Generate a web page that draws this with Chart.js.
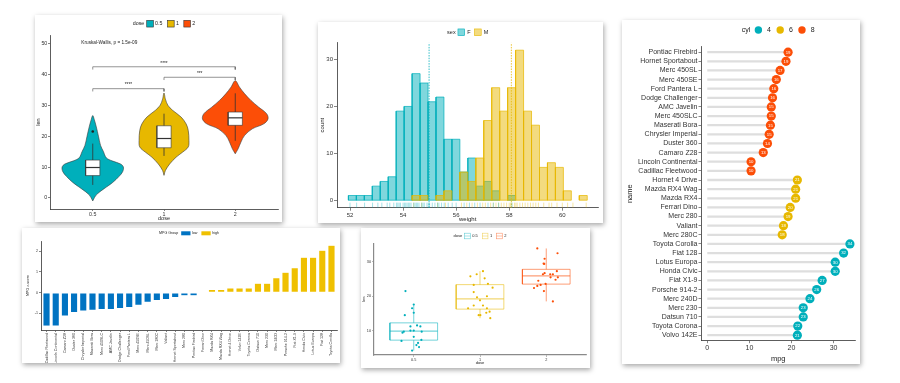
<!DOCTYPE html>
<html><head><meta charset="utf-8">
<script src="https://cdn.jsdelivr.net/npm/chart.js@4.4.1/dist/chart.umd.min.js"></script>
<style>
html,body{margin:0;padding:0;background:#fff}
body{width:900px;height:383px;overflow:hidden;position:relative}
.card{position:absolute;background:#fff;box-shadow:1px 2px 5px rgba(0,0,0,0.35)}
.card canvas{position:absolute;left:0;top:0}
</style></head><body>
<div class="card" style="left:35px;top:15px;width:247px;height:207px"><canvas id="ch1" width="247" height="207"></canvas></div>
<div class="card" style="left:318px;top:22px;width:285px;height:201px"><canvas id="ch2" width="285" height="201"></canvas></div>
<div class="card" style="left:622px;top:20px;width:238px;height:344px"><canvas id="ch3" width="238" height="344"></canvas></div>
<div class="card" style="left:22px;top:228px;width:318px;height:135px"><canvas id="ch4" width="318" height="135"></canvas></div>
<div class="card" style="left:361px;top:228px;width:229px;height:140px"><canvas id="ch5" width="229" height="140"></canvas></div>
<script>
const FONT = "'Liberation Sans', Arial, Helvetica, sans-serif";
const TEAL = '#00AFBB', YELLOW = '#E7B800', RED = '#FC4E07';
const JCO_BLUE = '#0073C2', JCO_GOLD = '#EFC000';
const AXIS = '#333333';

// ---------------- Data: ToothGrowth (panels 1 & 5) ----------------
const doseCats = ['0.5', '1', '2'];
const violinLevels = [
  [-1, 1, 3, 5, 7, 8.5, 10, 11, 12, 13, 15, 17, 20, 23, 25.5, 26.7],
  [7.3, 8.9, 11, 13.2, 14.8, 16.5, 18.6, 21.9, 24, 26.2, 28.4, 30, 32, 34],
  [14.3, 15.9, 18.1, 20.2, 22.4, 24, 25.6, 27.3, 29.4, 31.6, 33.8, 35.9, 38]
];
const violinDensity = [
  [0, 0.05, 0.16, 0.28, 0.37, 0.42, 0.43, 0.39, 0.27, 0.19, 0.15, 0.11, 0.08, 0.05, 0.02, 0],
  [0, 0.02, 0.08, 0.17, 0.26, 0.34, 0.35, 0.34, 0.31, 0.24, 0.12, 0.055, 0.02, 0],
  [0, 0.04, 0.08, 0.13, 0.24, 0.40, 0.46, 0.44, 0.33, 0.22, 0.13, 0.06, 0]
];
const lenMin = [4.2, 13.6, 18.5];
const lenQ1 = [7.225, 16.25, 23.525];
const lenMedian = [9.85, 19.25, 25.95];
const lenQ3 = [12.25, 23.375, 27.825];
const lenMax = [17.6, 27.3, 33.9];
const lenOutliers = [[21.5], [], []];
const cmpFrom = [0, 1, 0];
const cmpTo = [1, 2, 2];
const cmpLevel = [35.4, 39.1, 42.5];
const cmpLabel = ['****', '***', '****'];
const kwLabel = 'Kruskal-Wallis, p = 1.5e-09';
const kwAt = [-0.16, 50.3];

const jitterDose = [
  0,0,0,0,0,0,0,0,0,0,0,0,0,0,0,0,0,0,0,0,
  1,1,1,1,1,1,1,1,1,1,1,1,1,1,1,1,1,1,1,1,
  2,2,2,2,2,2,2,2,2,2,2,2,2,2,2,2,2,2,2,2];
const jitterLen = [
  21.5,17.6,16.5,14.5,15.2,11.5,11.2,11.2,10.0,10.0,9.7,9.7,9.4,8.2,7.3,7.0,6.4,5.8,5.2,4.2,
  27.3,26.4,25.8,25.2,23.6,23.3,22.5,21.2,20.0,19.7,18.8,17.3,17.3,16.5,16.5,15.5,15.2,14.5,14.5,13.6,
  33.9,32.5,30.9,29.5,29.4,27.3,26.7,26.4,26.4,26.4,25.5,25.5,24.8,24.5,23.6,23.3,23.0,22.4,21.5,18.5];
const jitterShift = [
  -0.125,0,-0.025,-0.135,0,0.05,-0.05,0.1,-0.05,0,-0.15,0.12,-0.17,0,0.115,-0.185,0.065,0.04,0.08,-0.025,
  0.045,-0.05,-0.145,0.07,0.12,-0.095,0.19,-0.095,0.105,-0.045,0,-0.095,0.045,-0.18,0.105,0.145,0.095,-0.02,0.005,0.155,
  -0.135,0.17,-0.025,-0.04,-0.03,0.16,-0.025,-0.05,0.1,0.06,0.175,0.065,0.14,-0.12,-0.01,-0.085,-0.135,-0.185,-0.035,0.1];

// ---------------- Data: weight histogram (panel 2) ----------------
const sexLevels = ['F', 'M'];
const binWidth = 0.3;
const binCenters = [52.09,52.39,52.69,52.99,53.29,53.59,53.89,54.19,54.49,54.79,55.09,55.39,55.69,55.99,56.29,
  56.59,56.89,57.19,57.49,57.79,58.09,58.39,58.69,58.99,59.29,59.59,59.89,60.19,60.49,60.79];
const countF = [1,1,1,3,4,5,19,20,27,25,21,22,13,13,6,9,3,4,2,0,1,0,0,0,0,0,0,0,0,0];
const countM = [0,0,0,0,0,0,0,0,1,1,0,1,2,0,6,4,9,17,24,19,24,32,19,16,7,8,7,2,0,1];
const meanWeight = [54.98, 58.08];
const rugF = [52.0,52.25,52.55,52.85,53.05,53.2,53.4,53.5,53.65,53.75,53.8,53.85,53.9,54.0,54.05,54.1,54.15,54.2,54.25,54.3,
  54.4,54.45,54.5,54.55,54.6,54.7,54.75,54.8,54.9,54.95,55.0,55.1,55.2,55.3,55.35,55.45,55.55,55.7,55.85,56.0,56.3,56.5,56.7,56.9,57.2,57.4,57.6,58.1];
const rugM = [54.4,54.7,55.3,55.6,56.2,56.4,56.6,56.8,57.0,57.1,57.3,57.4,57.5,57.6,57.7,57.8,57.9,58.0,58.05,58.1,58.2,58.25,
  58.3,58.4,58.5,58.6,58.7,58.8,58.9,59.0,59.1,59.3,59.5,59.6,59.8,60.0,60.2,60.4,60.9];

// ---------------- Data: mtcars dot chart (panel 3) ----------------
const carNames = ['Pontiac Firebird','Hornet Sportabout','Merc 450SL','Merc 450SE','Ford Pantera L','Dodge Challenger',
  'AMC Javelin','Merc 450SLC','Maserati Bora','Chrysler Imperial','Duster 360','Camaro Z28','Lincoln Continental',
  'Cadillac Fleetwood','Hornet 4 Drive','Mazda RX4 Wag','Mazda RX4','Ferrari Dino','Merc 280','Valiant','Merc 280C',
  'Toyota Corolla','Fiat 128','Lotus Europa','Honda Civic','Fiat X1-9','Porsche 914-2','Merc 240D','Merc 230',
  'Datsun 710','Toyota Corona','Volvo 142E'];
const carMpg = [19.2,18.7,17.3,16.4,15.8,15.5,15.2,15.2,15.0,14.7,14.3,13.3,10.4,10.4,21.4,21.0,21.0,19.7,19.2,18.1,17.8,
  33.9,32.4,30.4,30.4,27.3,26.0,24.4,22.8,22.8,21.5,21.4];
const carCyl = [8,8,8,8,8,8,8,8,8,8,8,8,8,8,6,6,6,6,6,6,6,4,4,4,4,4,4,4,4,4,4,4];
const cylLevels = [4, 6, 8];

// ---------------- Data: mpg z-score bars (panel 4) ----------------
const zNames = ['Cadillac Fleetwood','Lincoln Continental','Camaro Z28','Duster 360','Chrysler Imperial','Maserati Bora',
  'Merc 450SLC','AMC Javelin','Dodge Challenger','Ford Pantera L','Merc 450SE','Merc 450SL','Merc 280C','Valiant',
  'Hornet Sportabout','Merc 280','Pontiac Firebird','Ferrari Dino','Mazda RX4','Mazda RX4 Wag','Hornet 4 Drive',
  'Volvo 142E','Toyota Corona','Datsun 710','Merc 230','Merc 240D','Porsche 914-2','Fiat X1-9','Honda Civic',
  'Lotus Europa','Fiat 128','Toyota Corolla'];
const zValues = [-1.61,-1.61,-1.13,-0.96,-0.89,-0.85,-0.81,-0.81,-0.76,-0.71,-0.61,-0.46,-0.38,-0.33,-0.23,-0.15,-0.15,-0.06,
  0.15,0.15,0.22,0.22,0.23,0.45,0.45,0.72,0.98,1.20,1.71,1.71,2.04,2.29];
const zGroup = ['low','low','low','low','low','low','low','low','low','low','low','low','low','low','low','low','low','low',
  'high','high','high','high','high','high','high','high','high','high','high','high','high','high'];
const groupLevels = ['low', 'high'];

// ---------------- helpers ----------------
Chart.defaults.font.family = FONT;
function rgba(hex, a) {
  const n = parseInt(hex.slice(1), 16);
  return 'rgba(' + ((n >> 16) & 255) + ',' + ((n >> 8) & 255) + ',' + (n & 255) + ',' + a + ')';
}
function axis(o) {
  return {
    type: 'linear', min: o.min, max: o.max, reverse: !!o.reverse, offset: false,
    afterBuildTicks: (s) => { s.ticks = o.ticks.map(v => ({ value: v })); },
    afterFit: (s) => { if (s.isHorizontal()) s.height = o.fit; else s.width = o.fit; },
    grid: { display: true, drawOnChartArea: false, drawTicks: true, tickLength: o.tickLen, color: o.color || AXIS, lineWidth: o.tw || 0.6, offset: false },
    border: { display: true, color: o.color || AXIS, width: o.bw || 0.8 },
    ticks: { autoSkip: false, maxRotation: o.rot || 0, minRotation: o.rot || 0, padding: (o.pad === undefined ? 1 : o.pad),
      color: '#333', font: { family: FONT, size: o.size },
      callback: (v) => (o.labels ? o.labels(v) : String(v)) },
    title: { display: !!o.title, text: o.title || '', color: '#222', font: { family: FONT, size: o.titleSize || o.size },
      padding: (o.titlePad === undefined ? 0 : o.titlePad) }
  };
}
function lineDs(points, o) {
  return Object.assign({ type: 'line', data: points, pointRadius: 0, borderWidth: 0.7, borderColor: '#333',
    fill: false, tension: 0 }, o);
}
function boxPoints(c, hw, lo, hi) {
  return [{ x: c - hw, y: lo }, { x: c + hw, y: lo }, { x: c + hw, y: hi }, { x: c - hw, y: hi }, { x: c - hw, y: lo }];
}
function makeLegend(id, cfg) {
  return {
    id: id,
    afterDraw(chart) {
      const ctx = chart.ctx;
      ctx.save();
      ctx.font = cfg.size + 'px ' + FONT;
      ctx.textBaseline = 'middle';
      ctx.textAlign = 'left';
      const tw = ctx.measureText(cfg.title).width;
      let total = tw + cfg.titleGap;
      cfg.items.forEach((it, k) => {
        total += cfg.kw + cfg.textGap + ctx.measureText(it.label).width;
        if (k < cfg.items.length - 1) total += cfg.itemGap;
      });
      const area = chart.chartArea;
      let x = (area.left + area.right) / 2 - total / 2;
      const y = cfg.y;
      ctx.fillStyle = '#222';
      ctx.fillText(cfg.title, x, y);
      x += tw + cfg.titleGap;
      cfg.items.forEach((it) => {
        const kh = cfg.kh || cfg.kw;
        if (cfg.shape === 'circle') {
          ctx.beginPath(); ctx.arc(x + cfg.kw / 2, y, cfg.kw / 2, 0, Math.PI * 2);
          ctx.fillStyle = it.fill; ctx.fill();
        } else {
          ctx.fillStyle = it.fill; ctx.fillRect(x, y - kh / 2, cfg.kw, kh);
          if (it.stroke) {
            ctx.strokeStyle = it.stroke; ctx.lineWidth = cfg.lw || 0.6;
            ctx.strokeRect(x, y - kh / 2, cfg.kw, kh);
            if (cfg.shape === 'boxplot') { ctx.beginPath(); ctx.moveTo(x, y); ctx.lineTo(x + cfg.kw, y); ctx.stroke(); }
          }
        }
        x += cfg.kw + cfg.textGap;
        ctx.fillStyle = '#222';
        ctx.fillText(it.label, x, y);
        x += ctx.measureText(it.label).width + cfg.itemGap;
      });
      ctx.restore();
    }
  };
}
const baseOpts = (pad, scales) => ({
  responsive: false, animation: false, devicePixelRatio: 1, events: [],
  layout: { padding: pad },
  plugins: { legend: { display: false }, tooltip: { enabled: false } },
  scales: scales
});
const doseColors = [TEAL, YELLOW, RED];

// ---------------- Panel 1: violin + box ----------------
(function () {
  const ds = [];
  const BOXW = 0.1;
  doseCats.forEach((c, i) => {
    const lv = violinLevels[i], dn = violinDensity[i];
    const right = lv.map((y, k) => ({ x: i + dn[k], y: y }));
    const left = [];
    for (let k = lv.length - 2; k >= 0; k--) left.push({ x: i - dn[k], y: lv[k] });
    ds.push(lineDs(right.concat(left), { backgroundColor: doseColors[i], fill: 'shape', borderColor: '#3a3a3a',
      borderWidth: 0.6, tension: 0.35, order: 10 }));
    ds.push(lineDs([{ x: i, y: lenMin[i] }, { x: i, y: lenMax[i] }], { order: 9, borderWidth: 0.8 }));
    ds.push(lineDs(boxPoints(i, BOXW, lenQ1[i], lenQ3[i]), { backgroundColor: '#ffffff', fill: 'shape', order: 8, borderWidth: 0.6 }));
    ds.push(lineDs([{ x: i - BOXW, y: lenMedian[i] }, { x: i + BOXW, y: lenMedian[i] }], { order: 7, borderWidth: 1.2 }));
    if (lenOutliers[i].length) {
      ds.push(lineDs(lenOutliers[i].map(v => ({ x: i, y: v })), { showLine: false, pointRadius: 1.3,
        pointBackgroundColor: '#222', pointBorderWidth: 0, order: 6 }));
    }
  });
  cmpFrom.forEach((a, j) => {
    const b = cmpTo[j], y = cmpLevel[j];
    ds.push(lineDs([{ x: a, y: y - 0.9 }, { x: a, y: y }, { x: b, y: y }, { x: b, y: y - 0.9 }],
      { borderColor: '#666', borderWidth: 0.7, order: 5 }));
  });
  const textPlugin = {
    id: 'p1text',
    afterDatasetsDraw(chart) {
      const ctx = chart.ctx, sx = chart.scales.x, sy = chart.scales.y;
      ctx.save();
      ctx.fillStyle = '#222';
      ctx.font = '4.7px ' + FONT;
      ctx.textAlign = 'center'; ctx.textBaseline = 'bottom';
      cmpFrom.forEach((a, j) => {
        ctx.fillText(cmpLabel[j], sx.getPixelForValue((a + cmpTo[j]) / 2), sy.getPixelForValue(cmpLevel[j]) - 1.2);
      });
      ctx.textAlign = 'left'; ctx.textBaseline = 'middle';
      ctx.fillText(kwLabel, sx.getPixelForValue(kwAt[0]), sy.getPixelForValue(kwAt[1]));
      ctx.restore();
    }
  };
  new Chart(document.getElementById('ch1'), {
    type: 'line',
    data: { datasets: ds },
    options: baseOpts({ left: 0, top: 20, right: 2, bottom: 0 }, {
      x: axis({ min: -0.6, max: 2.6, ticks: [0, 1, 2], labels: v => doseCats[v], fit: 13, tickLen: 2, size: 5.3,
        title: 'dose', titleSize: 5.5, pad: 0.5 }),
      y: axis({ min: -3.6, max: 52.8, ticks: [0, 10, 20, 30, 40, 50], fit: 15, tickLen: 2, size: 5.3,
        title: 'len', titleSize: 5.5, pad: 0.7 })
    }),
    plugins: [textPlugin, makeLegend('lg1', { title: 'dose', y: 8.7, size: 5.3, kw: 6.7, titleGap: 2.4, textGap: 1.7, itemGap: 5,
      items: doseCats.map((c, i) => ({ label: c, fill: doseColors[i], stroke: '#333' })) })]
  });
})();

// ---------------- Panel 2: histogram (each bin drawn as a filled rectangle on the library's scales) ----------------
(function () {
  const sexColors = [TEAL, YELLOW];
  const counts = [countF, countM];
  const rugs = [rugF, rugM];
  const ds = [];
  sexLevels.forEach((s, i) => {
    binCenters.forEach((c, k) => {
      const n = counts[i][k];
      if (!n) return;
      ds.push(lineDs(boxPoints(c, binWidth / 2, 0, n), { backgroundColor: rgba(sexColors[i], 0.5), fill: 'shape',
        borderColor: rgba(sexColors[i], 0.9), borderWidth: 0.8, order: 5 - i }));
    });
    ds.push(lineDs([{ x: meanWeight[i], y: -1.6 }, { x: meanWeight[i], y: 33.6 }],
      { borderColor: sexColors[i], borderWidth: 0.8, borderDash: [1.5, 1.2], order: 1 }));
    ds.push({ type: 'scatter', data: rugs[i].map(v => ({ x: v, y: -1.05 })), pointStyle: 'line', rotation: 90,
      pointRadius: 2.5, borderColor: rgba(sexColors[i], 0.6), borderWidth: 0.6, order: 1, clip: false });
  });
  new Chart(document.getElementById('ch2'), {
    type: 'line',
    data: { datasets: ds },
    options: baseOpts({ left: 0, top: 20.7, right: 3, bottom: 0 }, {
      x: axis({ min: 51.51, max: 61.36, ticks: [52, 54, 56, 58, 60], fit: 15.3, tickLen: 3, size: 6,
        title: 'weight', titleSize: 6, pad: 1 }),
      y: axis({ min: -1.6, max: 33.6, ticks: [0, 10, 20, 30], fit: 19, tickLen: 3, size: 6,
        title: 'count', titleSize: 6, pad: 1, titlePad: 1 })
    }),
    plugins: [makeLegend('lg2', { title: 'sex', y: 10.3, size: 5.5, kw: 6.7, titleGap: 2.3, textGap: 2.5, itemGap: 4,
      items: sexLevels.map((s, i) => ({ label: s, fill: rgba(sexColors[i], 0.5), stroke: sexColors[i] })) })]
  });
})();

// ---------------- Panel 3: dot chart ----------------
(function () {
  const cylColor = { 4: TEAL, 6: YELLOW, 8: RED };
  const ds = [
    { type: 'scatter', data: carMpg.map((v, i) => ({ x: v, y: i })), pointRadius: 4.6,
      pointBackgroundColor: carCyl.map(c => cylColor[c]), pointBorderWidth: 0, order: 1, clip: false },
    { type: 'bar', indexAxis: 'y', data: carMpg.map((v, i) => ({ x: [0, v], y: i })), backgroundColor: '#dedede',
      barThickness: 1.6, borderWidth: 0, order: 2 }
  ];
  const labelPlugin = {
    id: 'p3labels',
    afterDatasetsDraw(chart) {
      const ctx = chart.ctx, meta = chart.getDatasetMeta(0);
      ctx.save();
      ctx.fillStyle = '#ffffff';
      ctx.font = '4.3px ' + FONT;
      ctx.textAlign = 'center'; ctx.textBaseline = 'middle';
      meta.data.forEach((el, i) => ctx.fillText(String(Math.round(carMpg[i])), el.x, el.y + 0.2));
      ctx.restore();
    }
  };
  new Chart(document.getElementById('ch3'), {
    type: 'bar',
    data: { datasets: ds },
    options: baseOpts({ left: 0, top: 26.7, right: 3, bottom: 0 }, {
      x: axis({ min: -1.5, max: 35.2, ticks: [0, 10, 20, 30], fit: 23.3, tickLen: 2.5, size: 7,
        title: 'mpg', titleSize: 7.5, pad: 1, titlePad: 0.5 }),
      y: axis({ min: -0.6, max: 31.6, reverse: true, ticks: carNames.map((n, i) => i), labels: v => carNames[v],
        fit: 79, tickLen: 2.5, size: 7, title: 'name', titleSize: 7.5, pad: 1, titlePad: 3.5 })
    }),
    plugins: [labelPlugin, makeLegend('lg3', { title: 'cyl', y: 10, size: 7, kw: 7.4, titleGap: 4.3, textGap: 5, itemGap: 5.5,
      shape: 'circle', items: cylLevels.map(c => ({ label: String(c), fill: cylColor[c] })) })]
  });
})();

// ---------------- Panel 4: deviation bars ----------------
(function () {
  const groupColor = { low: JCO_BLUE, high: JCO_GOLD };
  new Chart(document.getElementById('ch4'), {
    type: 'bar',
    data: { datasets: [{ data: zValues.map((v, i) => ({ x: i, y: v })), backgroundColor: zGroup.map(g => groupColor[g]),
      borderColor: '#ffffff', borderWidth: 0.5, borderSkipped: false, barPercentage: 0.78, categoryPercentage: 1 }] },
    options: baseOpts({ left: 0, top: 13, right: 3, bottom: 0 }, {
      x: axis({ min: -0.6, max: 31.6, ticks: zNames.map((n, i) => i), labels: v => zNames[v], fit: 33, tickLen: 2,
        size: 3.6, rot: 90, pad: 1 }),
      y: axis({ min: -1.8, max: 2.49, ticks: [-1, 0, 1, 2], fit: 19, tickLen: 2, size: 3.6,
        title: 'MPG z-score', titleSize: 3.6, pad: 1, titlePad: 3.8 })
    }),
    plugins: [makeLegend('lg4', { title: 'MPG Group', y: 5.3, size: 3.6, kw: 9.3, kh: 4, titleGap: 3, textGap: 1.5, itemGap: 4,
      items: groupLevels.map(g => ({ label: g, fill: groupColor[g] })) })]
  });
})();

// ---------------- Panel 5: box + jitter ----------------
(function () {
  const ds = [];
  const BOXW = 0.36;
  doseCats.forEach((c, i) => {
    const line = rgba(doseColors[i], 0.55);
    ds.push(lineDs([{ x: i, y: lenMin[i] }, { x: i, y: lenMax[i] }], { borderColor: line, borderWidth: 1, order: 9 }));
    ds.push(lineDs(boxPoints(i, BOXW, lenQ1[i], lenQ3[i]), { backgroundColor: '#ffffff', fill: 'shape',
      borderColor: line, borderWidth: 1, order: 8 }));
    ds.push(lineDs([{ x: i - BOXW, y: lenMedian[i] }, { x: i + BOXW, y: lenMedian[i] }], { borderColor: line, borderWidth: 1.3, order: 7 }));
    const pts = [];
    jitterDose.forEach((d, k) => { if (d === i) pts.push({ x: d + jitterShift[k], y: jitterLen[k] }); });
    ds.push({ type: 'scatter', data: pts, pointRadius: 1.1, pointBackgroundColor: doseColors[i], pointBorderWidth: 0, order: 1 });
  });
  new Chart(document.getElementById('ch5'), {
    type: 'line',
    data: { datasets: ds },
    options: baseOpts({ left: 0, top: 15.3, right: 3.3, bottom: 0 }, {
      x: axis({ min: -0.6, max: 2.6, ticks: [0, 1, 2], labels: v => doseCats[v], fit: 13, tickLen: 2, size: 3.8,
        title: 'dose', titleSize: 4, pad: 1, titlePad: 2.9, color: '#8a8a8a', bw: 1.2 }),
      y: axis({ min: 2.9, max: 35.4, ticks: [10, 20, 30], fit: 13, tickLen: 2, size: 3.8,
        title: 'len', titleSize: 4, pad: 1, titlePad: 0, color: '#8a8a8a', bw: 1.2 })
    }),
    plugins: [makeLegend('lg5', { title: 'dose', y: 8, size: 4, kw: 5.6, titleGap: 2.5, textGap: 2, itemGap: 4.5, shape: 'boxplot',
      items: doseCats.map((c, i) => ({ label: c, fill: '#ffffff', stroke: rgba(doseColors[i], 0.6) })) })]
  });
})();
</script>
</body></html>
